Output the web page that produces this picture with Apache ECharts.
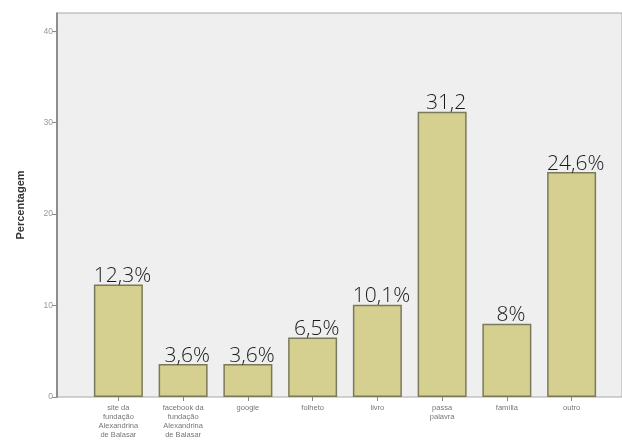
<!DOCTYPE html>
<html>
<head>
<meta charset="utf-8">
<script src="https://cdn.jsdelivr.net/npm/echarts@6/dist/echarts.min.js"></script>
<style>html,body{margin:0;padding:0;background:#fff;}#c{width:622px;height:446px;}</style>
</head>
<body>
<div id="c"></div>
<script>
const categories = ["site da\nfundação\nAlexandrina\nde Balasar", "facebook da\nfundação\nAlexandrina\nde Balasar", "google", "folheto", "livro", "passa\npalavra", "família", "outro"];
const values = [12.3, 3.6, 3.6, 6.5, 10.1, 31.2, 8, 24.6];
const valueLabels = ["12,3%", "3,6%", "3,6%", "6,5%", "10,1%", "31,2", "8%", "24,6%"];
const yTicks = [0, 10, 20, 30, 40];
const yMax = 42;

const chart = echarts.init(document.getElementById('c'), null, {renderer: 'canvas'});
chart.setOption({
  animation: false,
  backgroundColor: '#ffffff',
  grid: [
    {left: 57, right: -2, top: 13, bottom: 49, show: true, backgroundColor: '#efefef', borderColor: '#a8a8a8', borderWidth: 1},
    {left: 86, right: 18, top: 13, bottom: 49}
  ],
  xAxis: [
    {gridIndex: 0, type: 'value', min: 0, max: 1, show: false},
    {gridIndex: 1, type: 'category', data: categories,
     axisLine: {show: false},
     axisTick: {show: true, alignWithLabel: true, length: 4, lineStyle: {color: '#888'}},
     axisLabel: {fontSize: 7.5, lineHeight: 9, color: '#777', margin: 6, interval: 0, fontFamily: 'Liberation Sans'}}
  ],
  yAxis: [
    {gridIndex: 0, type: 'value', min: 0, max: yMax,
     name: 'Percentagem', nameLocation: 'middle', nameGap: 31,
     nameTextStyle: {fontSize: 11, fontWeight: 'bold', color: '#333', fontFamily: 'Liberation Sans'},
     axisLine: {show: true, lineStyle: {color: '#777', width: 1.5}},
     axisTick: {show: true, length: 5, customValues: yTicks, lineStyle: {color: '#888'}},
     axisLabel: {customValues: yTicks, fontSize: 8.5, color: '#999', margin: 4, fontFamily: 'Liberation Sans'},
     splitLine: {show: false}},
    {gridIndex: 1, type: 'value', min: 0, max: yMax, show: false}
  ],
  series: [{
    type: 'bar',
    xAxisIndex: 1, yAxisIndex: 1,
    barWidth: 49,
    data: values.map((v, i) => ({value: v, label: {formatter: valueLabels[i]}})),
    itemStyle: {color: '#d5d08f', borderColor: '#7b795c', borderWidth: 1.5},
    label: {show: true, position: 'top', distance: -2, offset: [4, 0], fontSize: 21, fontWeight: 300, color: '#1a1a1a', fontFamily: '"Open Sans", Lato'}
  }]
});
</script>
</body>
</html>
